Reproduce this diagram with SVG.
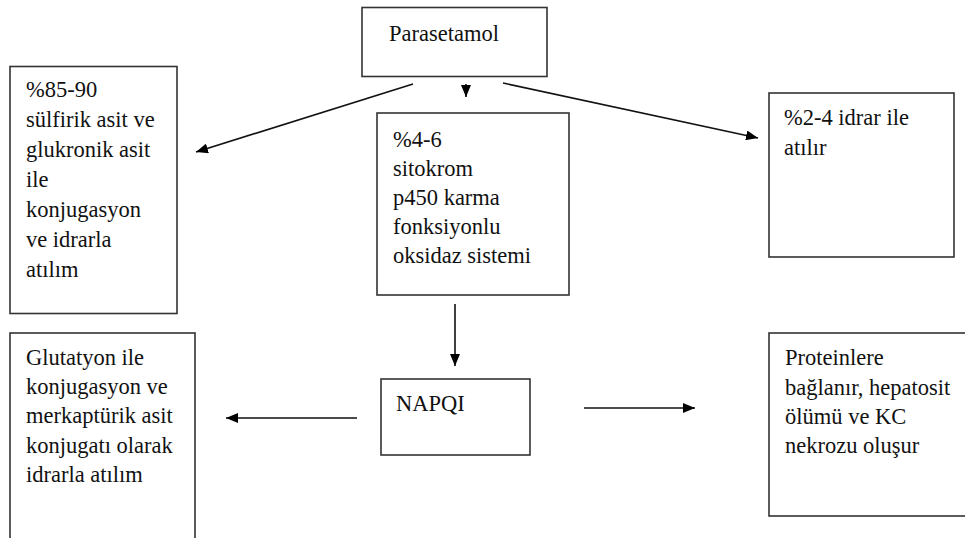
<svg xmlns="http://www.w3.org/2000/svg" width="965" height="538" viewBox="0 0 965 538">
<defs>
<marker id="ah" markerUnits="userSpaceOnUse" markerWidth="12" markerHeight="10" refX="12" refY="5" orient="auto">
<path d="M0,0 L12,5 L0,10 z" fill="#000"/>
</marker>
<style>
.box{fill:#fff;stroke:#333;stroke-width:1.6}
.t{font-family:"Liberation Serif","Times New Roman",serif;font-size:22.5px;fill:#111}
.c{stroke:#111;stroke-width:1.6;fill:none;marker-end:url(#ah)}
</style>
</defs>
<rect width="965" height="538" fill="#fff"/>
<g id="parasetamol">
<rect class="box" x="362" y="7.5" width="185" height="69"/>
<text class="t" x="389" y="41">Parasetamol</text>
</g>
<g id="sulfirik">
<rect class="box" x="10" y="66.5" width="167" height="247"/>
<text class="t" x="26" y="97">%85-90</text>
<text class="t" x="26" y="127">sülfirik asit ve</text>
<text class="t" x="26" y="157">glukronik asit</text>
<text class="t" x="26" y="187">ile</text>
<text class="t" x="26" y="217">konjugasyon</text>
<text class="t" x="26" y="247">ve idrarla</text>
<text class="t" x="26" y="277">atılım</text>
</g>
<g id="sitokrom">
<rect class="box" x="377" y="113" width="192" height="182"/>
<text class="t" x="393" y="147">%4-6</text>
<text class="t" x="393" y="176">sitokrom</text>
<text class="t" x="393" y="205">p450 karma</text>
<text class="t" x="393" y="234">fonksiyonlu</text>
<text class="t" x="393" y="263">oksidaz sistemi</text>
</g>
<g id="idrar">
<rect class="box" x="769" y="93" width="185" height="164"/>
<text class="t" x="784" y="125">%2-4 idrar ile</text>
<text class="t" x="784" y="155">atılır</text>
</g>
<g id="glutatyon">
<rect class="box" x="10" y="333" width="185" height="215"/>
<text class="t" x="26" y="365">Glutatyon ile</text>
<text class="t" x="26" y="394">konjugasyon ve</text>
<text class="t" x="26" y="423">merkaptürik asit</text>
<text class="t" x="26" y="453">konjugatı olarak</text>
<text class="t" x="26" y="482">idrarla atılım</text>
</g>
<g id="napqi">
<rect class="box" x="381" y="379" width="149" height="76"/>
<text class="t" x="396" y="411">NAPQI</text>
</g>
<g id="protein">
<rect class="box" x="769" y="333" width="205" height="183"/>
<text class="t" x="785" y="365">Proteinlere</text>
<text class="t" x="785" y="395">bağlanır, hepatosit</text>
<text class="t" x="785" y="424">ölümü ve KC</text>
<text class="t" x="785" y="453">nekrozu oluşur</text>
</g>
<g id="connectors">
<line class="c" x1="413" y1="84" x2="196" y2="152"/>
<line class="c" x1="466" y1="84" x2="466" y2="97"/>
<line class="c" x1="503" y1="83" x2="758" y2="138"/>
<line class="c" x1="455" y1="304" x2="455" y2="366"/>
<line class="c" x1="357" y1="418" x2="226" y2="418"/>
<line class="c" x1="584" y1="408" x2="695" y2="408"/>
</g>
</svg>
